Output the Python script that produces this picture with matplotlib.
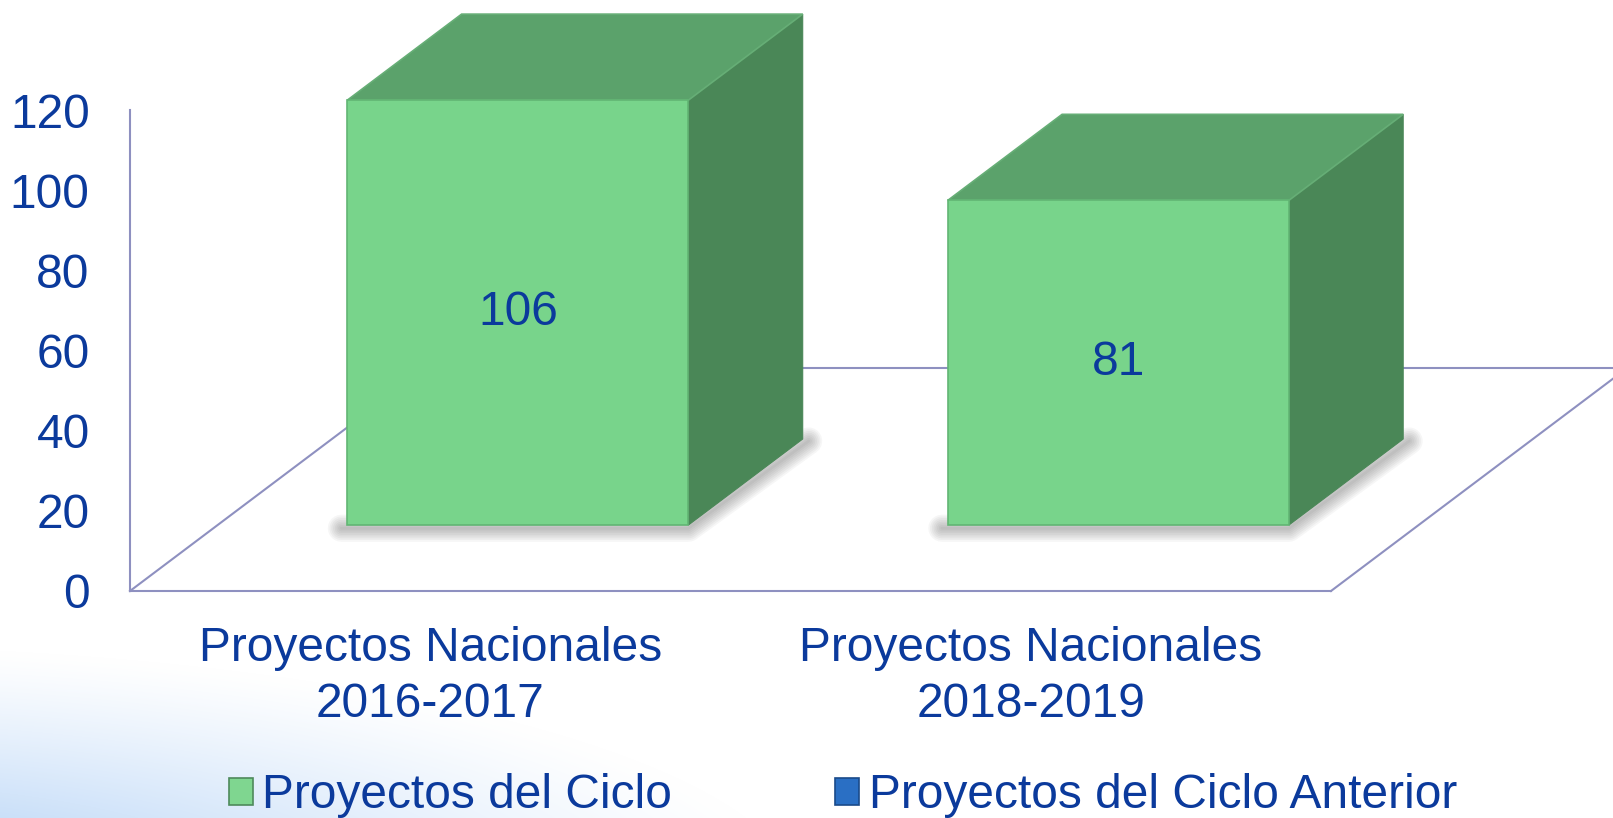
import numpy as np
import matplotlib.pyplot as plt
from matplotlib.patches import Polygon, Patch

# data
categories = ["Proyectos Nacionales\n2016-2017", "Proyectos Nacionales\n2018-2019"]
ciclo = [106, 81]
anterior = [0, 0]
series_names = ["Proyectos del Ciclo", "Proyectos del Ciclo Anterior"]
yticks = [0, 20, 40, 60, 80, 100, 120]

TXT = "#0B3A9C"
AXC = "#8E90C0"
FRONT, SIDE, TOP = "#78D48B", "#4A8757", "#5BA26B"
FS = 34.5

plt.rcParams['font.family'] = ['Liberation Sans', 'DejaVu Sans']

fig = plt.figure(figsize=(16.13, 8.18), dpi=100)

# soft blue glow in the lower left corner
bg = fig.add_axes([0, 0, 1, 1], zorder=-5)
W, H = 1613, 818
xx, yy = np.meshgrid(np.arange(W), np.arange(H))
r = np.sqrt(((xx + 200) / 1000.0) ** 2 + ((yy - 900) / 255.0) ** 2)
k = np.clip((1 - r) / 0.65, 0, 1) ** 1.2
blue = np.array([0.78, 0.87, 0.975])
img = np.ones((H, W, 3)) * (1 - k[..., None]) + blue * k[..., None]
bg.imshow(img, extent=[0, 1, 0, 1], aspect='auto', origin='upper')
bg.axis('off')

ax = fig.add_axes([130 / 1613, 227 / 818, 1201 / 1613, 481 / 818])
ax.patch.set_alpha(0)
ax.set_xlim(0, len(categories))
ax.set_ylim(0, 120)

# oblique depth (category units, value units)
DX, DY = 0.493, 55.6
z0, z1 = 0.296, 0.682
bw = 0.568
x = np.arange(len(categories)) + 0.5

# floor
nx = len(categories)
ax.plot([0, DX], [0, DY], color=AXC, lw=1.5, clip_on=False, zorder=1)
ax.plot([nx, nx + DX], [0, DY], color=AXC, lw=1.5, clip_on=False, zorder=1)
ax.plot([DX, nx + DX], [DY, DY], color=AXC, lw=1.5, clip_on=False, zorder=1)

for xi, v in zip(x, ciclo):
    l = xi - bw / 2 + z0 * DX
    rr = xi + bw / 2 + z0 * DX
    b = z0 * DY
    ddx, ddy = (z1 - z0) * DX, (z1 - z0) * DY
    # shadow
    for j in range(8):
        ax.plot([l - 0.01, rr, rr + ddx + 0.01], [b - 0.8, b - 0.8, b + ddy - 0.5],
                color='0.2', lw=2 + 2.5 * j, alpha=0.045, solid_capstyle='round',
                solid_joinstyle='round', clip_on=False, zorder=2)
    front = Polygon([(l, b), (rr, b), (rr, b + v), (l, b + v)], closed=True,
                    facecolor=FRONT, edgecolor="#62B574", lw=1.2, zorder=4, clip_on=False)
    side = Polygon([(rr, b), (rr + ddx, b + ddy), (rr + ddx, b + ddy + v), (rr, b + v)],
                   closed=True, facecolor=SIDE, edgecolor=SIDE, lw=0.8, zorder=3, clip_on=False)
    top = Polygon([(l, b + v), (rr, b + v), (rr + ddx, b + ddy + v), (l + ddx, b + ddy + v)],
                  closed=True, facecolor=TOP, edgecolor="#66AE76", lw=1.2, zorder=3, clip_on=False)
    for p in (side, top, front):
        ax.add_patch(p)
    ax.text(xi + z0 * DX, b + v / 2, str(v), ha='center', va='center',
            fontsize=FS, color=TXT, zorder=5)

for s in ['top', 'right']:
    ax.spines[s].set_visible(False)
for s in ['left', 'bottom']:
    ax.spines[s].set_color(AXC)
    ax.spines[s].set_linewidth(1.5)

ax.set_yticks(yticks)
ax.set_yticklabels([str(t) for t in yticks])
ax.set_xticks(x)
ax.set_xticklabels(categories, linespacing=1.33)
ax.tick_params(axis='y', length=0, pad=29, labelsize=FS, labelcolor=TXT)
ax.tick_params(axis='x', length=0, pad=25, labelsize=FS, labelcolor=TXT)

handles = [Patch(facecolor="#7FD690", edgecolor="#4E8A5C", lw=1.2),
           Patch(facecolor="#2A6FC4", edgecolor="#1A4A8A", lw=1.2)]
fig.legend(handles, series_names, loc='center', bbox_to_anchor=(843 / 1613, 1 - 796 / 818),
           ncol=2, frameon=False, fontsize=FS, labelcolor=TXT,
           handlelength=0.5, handleheight=0.5, handletextpad=0.2, columnspacing=3.4)

fig.savefig("out.png", dpi=100)
